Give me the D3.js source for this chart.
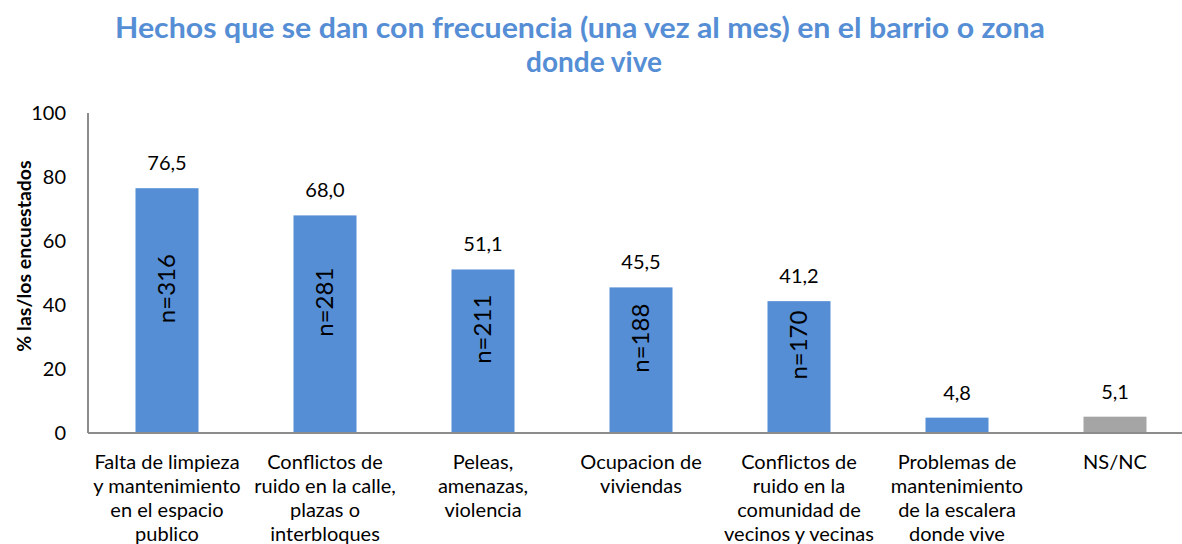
<!DOCTYPE html>
<html>
<head>
<meta charset="utf-8">
<script src="https://cdn.jsdelivr.net/npm/d3@7"></script>
<style>
  body { margin: 0; background: #fff; }
  svg { display: block; font-family: Lato, "Open Sans", sans-serif; }
</style>
</head>
<body>
<svg id="chart" width="1182" height="544"></svg>
<script>
// chart data
var categories = [
    ["Falta de limpieza", "y mantenimiento", "en el espacio", "publico"],
    ["Conflictos de", "ruido en la calle,", "plazas o", "interbloques"],
    ["Peleas,", "amenazas,", "violencia"],
    ["Ocupacion de", "viviendas"],
    ["Conflictos de", "ruido en la", "comunidad de", "vecinos y vecinas"],
    ["Problemas de", "mantenimiento", "de la escalera", "donde vive"],
    ["NS/NC"]
];
var percents = [76.5, 68.0, 51.1, 45.5, 41.2, 4.8, 5.1];
var counts = [316, 281, 211, 188, 170, null, null];
var yTicks = [0, 20, 40, 60, 80, 100];
var titleLines = ["Hechos que se dan con frecuencia (una vez al mes) en el barrio o zona", "donde vive"];
var yTitle = "% las/los encuestados";

var BLUE = "#558ed5";
var GREY = "#a5a5a5";

var svg = d3.select("#chart");

var x = d3.scaleBand()
    .domain(d3.range(categories.length))
    .range([88, 1194])
    .padding(0);

var y = d3.scaleLinear()
    .domain([0, 100])
    .range([433, 113]);

var barW = 63;

// title
var _title = svg.append("text")
    .attr("text-anchor", "middle")
    .attr("font-size", "28")
    .attr("font-weight", "bold")
    .attr("fill", BLUE);

_title.append("tspan")
    .attr("x", 580)
    .attr("y", 38)
    .attr("textLength", 930)
    .attr("lengthAdjust", "spacingAndGlyphs")
    .text(titleLines[0]);

_title.append("tspan")
    .attr("x", 594)
    .attr("y", 72)
    .text(titleLines[1]);

// y tick labels
svg.append("g").selectAll("text")
    .data(yTicks)
    .enter().append("text")
    .attr("x", 66)
    .attr("y", function (d) { return y(d); })
    .attr("dy", "0.35em")
    .attr("text-anchor", "end")
    .attr("font-size", "20")
    .attr("fill", "#000")
    .text(function (d) { return d; });

// y title
svg.append("text")
    .attr("transform", "translate(31,256) rotate(-90)")
    .attr("text-anchor", "middle")
    .attr("font-size", "19.5")
    .attr("font-weight", "bold")
    .attr("fill", "#000")
    .text(yTitle);

// bars
svg.append("g").selectAll("rect")
    .data(percents)
    .enter().append("rect")
    .attr("x", function (d, i) { return x(i) + x.bandwidth() / 2 - barW / 2; })
    .attr("y", function (d) { return y(d); })
    .attr("width", barW)
    .attr("height", function (d) { return y(0) - y(d); })
    .attr("fill", function (d, i) { return i == categories.length - 1 ? GREY : BLUE; });

// axes lines
svg.append("line")
    .attr("x1", 88).attr("x2", 88)
    .attr("y1", y(100)).attr("y2", y(0))
    .attr("stroke", "#8c8c8c")
    .attr("stroke-width", 2);

svg.append("line")
    .attr("x1", 88).attr("x2", 1182)
    .attr("y1", y(0)).attr("y2", y(0))
    .attr("stroke", "#8c8c8c")
    .attr("stroke-width", 2);

// value labels
svg.append("g").selectAll("text")
    .data(percents)
    .enter().append("text")
    .attr("x", function (d, i) { return x(i) + x.bandwidth() / 2; })
    .attr("y", function (d) { return y(d) - 18; })
    .attr("text-anchor", "middle")
    .attr("font-size", "20")
    .attr("fill", "#000")
    .text(function (d) { return d3.format(".1f")(d).replace(".", ","); });

// n= labels inside bars
svg.append("g").selectAll("text")
    .data(counts.map(function (c, i) { return { n: c, v: percents[i], i: i }; }).filter(function (d) { return d.n != null; }))
    .enter().append("text")
    .attr("transform", function (d) {
        var cy = (y(d.v) + y(0)) / 2 - 22;
        return "translate(" + (x(d.i) + x.bandwidth() / 2) + "," + cy + ") rotate(-90)";
    })
    .attr("dy", "0.35em")
    .attr("text-anchor", "middle")
    .attr("font-size", "24")
    .attr("fill", "#000")
    .text(function (d) { return "n=" + d.n; });

// category labels
var gCat = svg.append("g").selectAll("text")
    .data(categories)
    .enter().append("text")
    .attr("x", function (d, i) { return x(i) + x.bandwidth() / 2; })
    .attr("y", 469)
    .attr("text-anchor", "middle")
    .attr("font-size", "20")
    .attr("fill", "#000");

gCat.selectAll("tspan")
    .data(function (d, i) { return d.map(function (t) { return { t: t, i: i }; }); })
    .enter().append("tspan")
    .attr("x", function (d) { return x(d.i) + x.bandwidth() / 2; })
    .attr("dy", function (d, j) { return j == 0 ? 0 : 24; })
    .text(function (d) { return d.t; });
</script>
</body>
</html>
